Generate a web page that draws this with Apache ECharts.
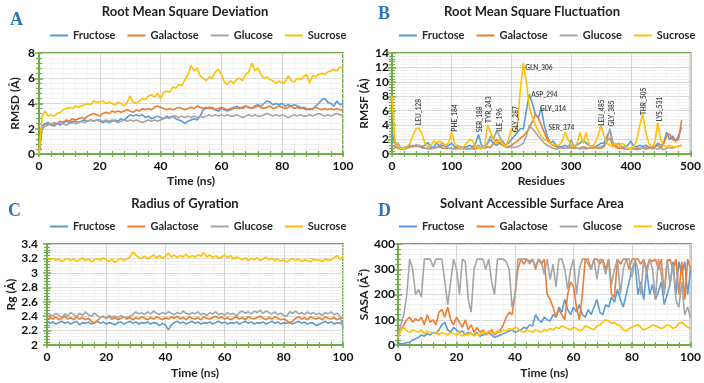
<!DOCTYPE html>
<html><head><meta charset="utf-8">
<script src="https://cdn.jsdelivr.net/npm/echarts@6/dist/echarts.min.js"></script>
<style>html,body{margin:0;padding:0;background:#fff}#c{width:704px;height:383px}</style>
</head><body><div id="c"></div>
<script>
const seriesNames = ['Fructose', 'Galactose', 'Glucose', 'Sucrose'];

const time = [
  0, 1, 2, 3, 4, 5, 6, 7, 8, 9,
  10, 11, 12, 13, 14, 15, 16, 17, 18, 19,
  20, 21, 22, 23, 24, 25, 26, 27, 28, 29,
  30, 31, 32, 33, 34, 35, 36, 37, 38, 39,
  40, 41, 42, 43, 44, 45, 46, 47, 48, 49,
  50, 51, 52, 53, 54, 55, 56, 57, 58, 59,
  60, 61, 62, 63, 64, 65, 66, 67, 68, 69,
  70, 71, 72, 73, 74, 75, 76, 77, 78, 79,
  80, 81, 82, 83, 84, 85, 86, 87, 88, 89,
  90, 91, 92, 93, 94, 95, 96, 97, 98, 99,
  100];

// Panel A: RMSD (Å)
const rmsdFructose = [
  0, 2.2, 2.4, 2.5, 2.3, 2.2, 2.4, 2.3, 2.5, 2.6,
  2.5, 2.6, 2.6, 2.5, 2.6, 2.7, 2.6, 2.7, 2.6, 2.7,
  2.6, 2.5, 2.6, 2.5, 2.6, 2.7, 2.6, 2.8, 2.7, 2.9,
  3.1, 3.0, 3.1, 3.0, 3.1, 2.9, 3.0, 2.8, 2.9, 3.0,
  2.9, 2.8, 3.0, 2.9, 3.0, 2.8, 2.7, 2.6, 2.4, 2.6,
  2.7, 2.8, 2.7, 3.0, 3.5, 3.6, 3.7, 3.6, 3.5, 3.4,
  3.6, 3.5, 3.4, 3.5, 3.6, 3.8, 3.6, 3.7, 3.8, 3.7,
  3.6, 3.8, 3.9, 3.8, 4.0, 4.2, 4.1, 3.9, 4.0, 3.9,
  4.0, 3.8, 3.9, 3.8, 3.9, 3.8, 3.7, 3.6, 3.5, 3.6,
  3.5, 3.8, 4.0, 4.3, 4.4, 4.1, 4.0, 3.8, 4.2, 3.9,
  4.0];
const rmsdGalactose = [
  0, 2.0, 2.2, 2.4, 2.3, 2.5, 2.4, 2.6, 2.5, 2.7,
  2.6, 2.8, 2.7, 2.8, 2.9, 2.8, 3.0, 3.1, 3.2, 3.1,
  3.0, 3.2, 3.3, 3.2, 3.4, 3.3, 3.4, 3.3, 3.4, 3.5,
  3.4, 3.3, 3.5, 3.4, 3.6, 3.5, 3.6, 3.5, 3.7, 3.8,
  3.7, 3.6, 3.5, 3.6, 3.5, 3.6, 3.7, 3.6, 3.5, 3.6,
  3.7, 3.6, 3.8, 3.7, 3.6, 3.7, 3.6, 3.7, 3.5, 3.6,
  3.7, 3.6, 3.5, 3.6, 3.7, 3.6, 3.7, 3.6, 3.8, 3.7,
  3.6, 3.7, 3.8, 3.7, 3.6, 3.7, 3.8, 3.6, 3.7, 3.8,
  3.7, 3.6, 3.7, 3.8, 3.6, 3.7, 3.6, 3.7, 3.6, 3.5,
  3.6, 3.7, 3.6, 3.5, 3.6, 3.5, 3.6, 3.5, 3.6, 3.5,
  3.5];
const rmsdGlucose = [
  0, 2.0, 2.2, 2.3, 2.4, 2.3, 2.4, 2.5, 2.4, 2.3,
  2.4, 2.5, 2.4, 2.5, 2.6, 2.5, 2.6, 2.7, 2.6, 2.7,
  2.7, 2.6, 2.7, 2.6, 2.7, 2.6, 2.5, 2.6, 2.7, 2.6,
  2.7, 2.6, 2.7, 2.6, 2.5, 2.6, 2.7, 2.6, 2.7, 2.6,
  2.7, 2.8, 2.9, 2.8, 3.0, 3.0, 2.9, 3.0, 2.9, 3.0,
  2.9, 3.0, 2.9, 3.0, 2.9, 3.0, 3.1, 3.0, 3.1, 3.0,
  3.1, 3.0, 3.1, 3.0, 3.0, 3.1, 3.0, 2.9, 3.0, 3.1,
  3.0, 3.1, 3.0, 3.0, 3.1, 3.2, 3.1, 3.0, 3.1, 3.0,
  3.1, 3.0, 2.9, 3.0, 3.1, 3.0, 3.1, 3.0, 3.0, 3.1,
  3.0, 3.1, 3.2, 3.1, 3.0, 3.1, 3.0, 3.1, 3.2, 3.1,
  3.1];
const rmsdSucrose = [
  0, 3.0, 3.4, 3.0, 3.1, 3.0, 3.2, 3.3, 3.5, 3.6,
  3.7, 3.6, 3.8, 3.7, 3.8, 3.9, 4.0, 3.9, 4.2, 4.1,
  4.1, 4.2, 4.0, 4.1, 4.0, 3.9, 4.1, 4.0, 3.8, 4.1,
  4.6, 4.1, 4.0, 4.2, 4.4, 4.3, 4.6, 4.7, 4.5, 4.8,
  4.4, 4.9, 5.0, 4.9, 5.3, 5.2, 5.5, 5.4, 5.9, 6.3,
  7.0, 6.6, 6.8, 6.2, 6.0, 5.8, 6.1, 6.0, 6.5, 6.7,
  6.3, 5.7, 5.5, 5.8, 5.6, 5.9, 6.0, 5.8, 6.3, 6.5,
  7.2, 6.6, 6.8, 6.3, 6.0, 6.1, 5.9, 5.8, 5.6, 5.8,
  5.6, 5.7, 6.2, 5.8, 5.7, 6.0, 5.9, 6.1, 6.3, 5.6,
  6.2, 6.1, 6.3, 6.4, 6.3, 6.5, 6.6, 6.7, 6.6, 6.9,
  6.8];

// Panel B: RMSF (Å) by residue
const residues = [
  0, 5, 10, 15, 20, 25, 30, 35, 40, 45,
  50, 55, 60, 65, 70, 75, 80, 85, 90, 95,
  100, 105, 110, 115, 120, 125, 130, 135, 140, 145,
  150, 155, 160, 165, 170, 175, 180, 185, 190, 195,
  200, 205, 210, 215, 220, 225, 230, 235, 240, 245,
  250, 255, 260, 265, 270, 275, 280, 285, 290, 295,
  300, 305, 310, 315, 320, 325, 330, 335, 340, 345,
  350, 355, 360, 365, 370, 375, 380, 385, 390, 395,
  400, 405, 410, 415, 420, 425, 430, 435, 440, 445,
  450, 455, 460, 465, 470, 475, 480, 485];
const rmsfFructose = [
  2.8, 1.5, 1.0, 0.8, 0.9, 1.0, 1.2, 1.0, 1.2, 1.2,
  1.0, 1.2, 1.6, 1.0, 0.9, 1.6, 1.0, 1.2, 1.0, 1.2,
  1.5, 1.0, 0.8, 1.0, 0.9, 1.0, 1.2, 1.0, 1.5, 2.7,
  1.2, 0.9, 1.5, 2.0, 1.5, 1.2, 1.5, 1.8, 1.2, 1.5,
  2.0, 2.5, 3.0, 3.5, 3.5, 6.0, 8.3, 7.0, 5.5, 5.0,
  6.4, 4.0, 2.5, 1.5, 1.8, 1.2, 1.0, 1.0, 1.2, 1.0,
  1.2, 1.0, 1.3, 1.5, 2.0, 1.5, 1.2, 1.0, 1.0, 1.2,
  1.5, 1.5, 2.5, 3.2, 1.5, 1.0, 0.8, 0.8, 1.0, 1.2,
  1.8, 1.0, 1.0, 1.2, 1.0, 1.2, 1.0, 0.8, 1.0, 1.5,
  1.2, 1.5, 3.0, 2.0, 2.5, 1.8, 2.5, 3.7];
const rmsfGalactose = [
  1.2, 1.0, 0.8, 0.7, 0.7, 0.8, 1.0, 1.0, 1.2, 1.0,
  1.0, 0.8, 0.8, 0.7, 0.8, 0.9, 1.0, 0.8, 0.8, 0.8,
  0.8, 0.7, 1.2, 0.7, 0.8, 0.7, 0.8, 0.7, 0.7, 0.8,
  0.8, 0.8, 1.0, 0.9, 1.5, 2.0, 1.5, 1.2, 1.0, 1.0,
  1.2, 1.5, 1.8, 2.2, 2.5, 3.0, 3.5, 4.5, 5.5, 5.0,
  4.0, 3.0, 2.0, 1.5, 1.2, 1.0, 0.8, 0.8, 0.8, 0.8,
  0.9, 0.8, 0.8, 0.8, 1.0, 0.9, 0.8, 0.8, 0.9, 0.8,
  0.8, 1.0, 1.8, 2.2, 1.2, 1.0, 0.8, 0.8, 0.7, 0.7,
  0.8, 0.7, 0.8, 0.8, 0.8, 0.7, 0.8, 0.8, 1.0, 1.2,
  0.8, 1.5, 2.5, 2.8, 2.0, 1.8, 2.0, 4.7];
const rmsfGlucose = [
  1.2, 1.0, 1.5, 0.8, 0.7, 0.8, 1.0, 1.2, 1.0, 1.2,
  0.8, 0.8, 0.7, 0.9, 0.8, 1.0, 1.2, 1.6, 0.9, 0.8,
  0.7, 0.8, 0.7, 0.8, 0.7, 0.8, 0.7, 0.9, 1.0, 1.2,
  0.8, 0.8, 1.5, 2.5, 2.0, 3.2, 2.5, 1.5, 1.0, 0.9,
  1.0, 0.9, 1.0, 1.2, 1.5, 2.5, 4.0, 3.5, 3.0, 2.5,
  2.0, 1.5, 1.2, 1.0, 0.8, 0.7, 0.8, 0.9, 0.8, 0.8,
  2.0, 1.0, 0.8, 0.7, 0.8, 0.7, 0.8, 0.9, 1.0, 0.9,
  1.0, 1.2, 2.0, 3.5, 1.5, 1.2, 1.5, 1.0, 0.8, 0.7,
  0.8, 0.7, 0.6, 0.7, 0.8, 0.9, 1.0, 0.7, 0.8, 0.7,
  0.8, 0.6, 0.8, 0.9, 0.8, 1.0, 1.1, 1.2];
const rmsfSucrose = [
  8.0, 1.8, 1.0, 0.8, 0.8, 1.0, 1.5, 2.5, 3.5, 3.6,
  2.8, 1.5, 1.0, 1.2, 1.8, 1.5, 1.8, 1.5, 1.2, 1.6,
  3.0, 1.5, 1.0, 0.8, 1.0, 1.5, 2.0, 1.8, 1.0, 0.8,
  0.7, 1.0, 4.0, 3.0, 2.0, 1.5, 2.0, 1.5, 1.0, 2.0,
  3.5, 3.0, 4.0, 9.0, 12.6, 10.0, 6.5, 5.0, 4.0, 3.2,
  2.5, 2.0, 1.8, 1.5, 1.3, 1.2, 1.2, 1.8, 3.0, 2.0,
  1.2, 1.0, 1.5, 3.0, 1.5, 3.0, 1.2, 1.0, 1.5, 2.5,
  4.0, 2.5, 1.5, 1.2, 1.0, 1.5, 1.0, 1.5, 1.2, 0.8,
  0.8, 1.0, 2.0, 4.0, 5.5, 3.0, 1.5, 1.0, 1.5, 4.3,
  2.0, 1.2, 1.0, 1.2, 1.0, 1.0, 1.0, 1.2];

// Residue annotations in panel B
const peakNames = ['LEU_128', 'PHE_184', 'SER_188', 'TYR_243', 'ILE_196', 'GLY_287', 'GLN_306', 'ASP_294', 'GLY_314', 'SER_374', 'LEU_485', 'GLY_385', 'THR_505', 'LYS_531'];
const peakResidue = [45, 105, 148, 163, 180, 208, 223, 233, 248, 262, 352, 369, 422, 449];
const peakRmsf = [4.0, 3.1, 3.0, 4.3, 3.1, 3.0, 11.9, 8.2, 6.3, 3.65, 3.9, 3.8, 5.4, 4.5];
const peakVertical = [true, true, true, true, true, true, false, false, false, false, true, true, true, true];

// Panel C: Rg (Å)
const rgFructose = [
  2.33, 2.30, 2.32, 2.29, 2.31, 2.33, 2.30, 2.32, 2.29, 2.31,
  2.33, 2.28, 2.31, 2.30, 2.32, 2.29, 2.31, 2.33, 2.30, 2.32,
  2.29, 2.31, 2.30, 2.28, 2.31, 2.32, 2.29, 2.31, 2.33, 2.30,
  2.32, 2.29, 2.31, 2.30, 2.32, 2.29, 2.31, 2.30, 2.27, 2.30,
  2.28, 2.21, 2.28, 2.31, 2.33, 2.30, 2.32, 2.29, 2.31, 2.33,
  2.30, 2.32, 2.29, 2.31, 2.30, 2.32, 2.29, 2.31, 2.33, 2.30,
  2.32, 2.29, 2.31, 2.30, 2.32, 2.29, 2.31, 2.33, 2.30, 2.32,
  2.29, 2.31, 2.30, 2.32, 2.29, 2.31, 2.33, 2.30, 2.32, 2.29,
  2.31, 2.30, 2.32, 2.29, 2.31, 2.33, 2.30, 2.32, 2.29, 2.31,
  2.30, 2.27, 2.29, 2.31, 2.33, 2.30, 2.32, 2.29, 2.31, 2.30,
  2.32];
const rgGalactose = [
  2.35, 2.38, 2.36, 2.39, 2.35, 2.37, 2.40, 2.36, 2.38, 2.35,
  2.39, 2.36, 2.38, 2.35, 2.37, 2.33, 2.30, 2.34, 2.38, 2.40,
  2.37, 2.39, 2.36, 2.38, 2.35, 2.37, 2.39, 2.36, 2.38, 2.35,
  2.38, 2.36, 2.39, 2.37, 2.35, 2.38, 2.36, 2.39, 2.37, 2.35,
  2.38, 2.36, 2.39, 2.37, 2.40, 2.36, 2.38, 2.35, 2.39, 2.37,
  2.36, 2.38, 2.35, 2.39, 2.37, 2.36, 2.38, 2.40, 2.37, 2.39,
  2.36, 2.38, 2.35, 2.37, 2.39, 2.36, 2.38, 2.35, 2.39, 2.37,
  2.36, 2.38, 2.40, 2.37, 2.35, 2.38, 2.36, 2.39, 2.37, 2.35,
  2.36, 2.34, 2.30, 2.33, 2.37, 2.39, 2.36, 2.38, 2.35, 2.39,
  2.37, 2.36, 2.38, 2.35, 2.39, 2.37, 2.36, 2.38, 2.35, 2.37,
  2.38];
const rgGlucose = [
  2.38, 2.42, 2.40, 2.44, 2.41, 2.38, 2.43, 2.40, 2.45, 2.42,
  2.39, 2.44, 2.41, 2.46, 2.42, 2.40, 2.44, 2.41, 2.38, 2.40,
  2.37, 2.41, 2.39, 2.40, 2.38, 2.41, 2.39, 2.38, 2.40, 2.42,
  2.46, 2.43, 2.45, 2.42, 2.46, 2.43, 2.47, 2.44, 2.42, 2.45,
  2.43, 2.46, 2.44, 2.42, 2.45, 2.43, 2.47, 2.44, 2.42, 2.45,
  2.43, 2.46, 2.42, 2.44, 2.41, 2.45, 2.43, 2.46, 2.42, 2.44,
  2.41, 2.45, 2.42, 2.44, 2.40, 2.45, 2.47, 2.44, 2.46, 2.43,
  2.47, 2.45, 2.48, 2.44, 2.47, 2.45, 2.43, 2.46, 2.42, 2.44,
  2.41, 2.40, 2.46, 2.44, 2.47, 2.43, 2.45, 2.42, 2.46, 2.43,
  2.45, 2.42, 2.44, 2.41, 2.45, 2.43, 2.46, 2.42, 2.44, 2.40,
  2.23];
const rgSucrose = [
  3.22, 3.18, 3.20, 3.17, 3.19, 3.16, 3.18, 3.20, 3.17, 3.19,
  3.16, 3.18, 3.21, 3.17, 3.19, 3.15, 3.18, 3.20, 3.17, 3.21,
  3.18, 3.16, 3.19, 3.14, 3.18, 3.20, 3.17, 3.19, 3.22, 3.29,
  3.25, 3.21, 3.20, 3.23, 3.19, 3.22, 3.25, 3.21, 3.24, 3.20,
  3.23, 3.27, 3.22, 3.25, 3.21, 3.24, 3.22, 3.26, 3.21, 3.24,
  3.22, 3.25, 3.23, 3.28, 3.22, 3.25, 3.21, 3.24, 3.20, 3.22,
  3.25, 3.21, 3.24, 3.19, 3.22, 3.20, 3.18, 3.21, 3.17, 3.20,
  3.18, 3.21, 3.17, 3.19, 3.22, 3.18, 3.20, 3.17, 3.19, 3.16,
  3.18, 3.15, 3.18, 3.20, 3.17, 3.19, 3.16, 3.18, 3.17, 3.15,
  3.19, 3.17, 3.18, 3.16, 3.19, 3.17, 3.18, 3.21, 3.24, 3.19,
  3.22];

// Panel D: SASA (Å²)
const sasaFructose = [
  10, 5, 5, 10, 10, 20, 25, 30, 40, 35,
  45, 40, 50, 45, 60, 80, 90, 60, 50, 70,
  60, 50, 55, 40, 50, 45, 40, 50, 35, 40,
  45, 50, 40, 30, 35, 40, 45, 50, 55, 60,
  50, 55, 60, 70, 65, 80, 75, 120, 100, 90,
  110, 100, 95, 120, 110, 150, 130, 180, 140, 120,
  150, 130, 160, 120, 110, 140, 120, 150, 180, 130,
  120, 160, 150, 190, 170, 220, 180, 150, 200, 250,
  300, 330, 200, 250, 180, 300, 200, 240, 180, 210,
  250, 160, 200, 240, 330, 200, 330, 280, 330, 200,
  300];
const sasaGalactose = [
  30, 60, 80, 100, 110, 90, 105, 95, 110, 80,
  120, 90, 100, 80, 130, 140, 110, 150, 100, 80,
  110, 90, 70, 100, 60, 80, 50, 70, 50, 60,
  40, 50, 60, 40, 50, 60, 80, 110, 130, 120,
  200, 300, 340, 320, 340, 330, 340, 300, 340, 320,
  340, 200, 180, 150, 110, 140, 120, 100, 200, 250,
  230, 150, 100, 200, 340, 340, 300, 340, 340, 320,
  340, 300, 340, 200, 190, 340, 320, 340, 340, 300,
  340, 340, 340, 320, 340, 300, 340, 330, 340, 300,
  340, 200, 330, 340, 300, 340, 200, 330, 180, 340,
  300];
const sasaGlucose = [
  40, 80, 120, 200, 340, 300, 200, 220, 190, 340,
  340, 340, 310, 340, 340, 340, 250, 160, 250, 340,
  300, 200, 340, 330, 180, 130, 300, 340, 340, 340,
  300, 340, 250, 200, 340, 340, 340, 330, 300, 150,
  200, 340, 340, 340, 340, 320, 340, 310, 340, 330,
  280, 340, 260, 320, 230, 340, 340, 300, 220, 300,
  340, 200, 300, 340, 340, 320, 300, 340, 260, 340,
  330, 280, 340, 240, 300, 340, 200, 300, 340, 340,
  270, 340, 300, 200, 340, 280, 340, 300, 180, 340,
  280, 200, 340, 240, 320, 180, 150, 250, 120, 150,
  110];
const sasaSucrose = [
  30, 60, 70, 55, 50, 60, 55, 50, 60, 45,
  55, 50, 45, 50, 40, 50, 45, 40, 50, 45,
  40, 50, 35, 45, 40, 50, 35, 45, 40, 50,
  45, 55, 50, 45, 55, 50, 60, 55, 65, 60,
  70, 65, 55, 50, 60, 55, 50, 60, 55, 50,
  60, 55, 65, 60, 70, 65, 75, 70, 65, 60,
  70, 65, 55, 60, 75, 70, 65, 60, 75, 80,
  90, 100, 95, 85, 90, 80, 75, 60, 55, 65,
  70, 75, 80, 70, 60, 65, 70, 80, 75, 70,
  65, 70, 80, 75, 65, 70, 85, 90, 80, 70,
  65];

// ---------- chart construction ----------
const colors = ['#5B9BD5', '#ED7D31', '#A5A5A5', '#FFC000'];
const green = '#70AD47';
const FONT = 'Lato';
const letterColor = '#2E75B6';

const panels = [
  { letter: 'A', lx: 5, ly: 6, title: 'Root Mean Square Deviation', tx: 180, ty: 0, legendLeft: 45, legendTop: 25,
    grid: { left: 39, top: 53, width: 304, height: 101 },
    x: { min: 0, max: 100, interval: 20, name: 'Time (ns)', gap: 21 },
    y: { min: 0, max: 8, interval: 2, name: 'RMSD (Å)', gap: 18, margin: 4 },
    xs: time, ys: [rmsdFructose, rmsdGalactose, rmsdGlucose, rmsdSucrose] },
  { letter: 'B', lx: 373, ly: 0, title: 'Root Mean Square Fluctuation', tx: 527, ty: 0, legendLeft: 394, legendTop: 25,
    grid: { left: 392, top: 53, width: 300, height: 101 },
    x: { min: 0, max: 500, interval: 100, name: 'Residues', gap: 21 },
    y: { min: 0, max: 14, interval: 2, name: 'RMSF (Å)', gap: 22, margin: 3 },
    xs: residues, ys: [rmsfFructose, rmsfGalactose, rmsfGlucose, rmsfSucrose] },
  { letter: 'C', lx: 3, ly: 197, title: 'Radius of Gyration', tx: 180, ty: 192, legendLeft: 45, legendTop: 216,
    grid: { left: 47, top: 244, width: 296, height: 101 },
    x: { min: 0, max: 100, interval: 20, name: 'Time (ns)', gap: 22 },
    y: { min: 2, max: 3.4, interval: 0.2, name: 'Rg (Å)', gap: 26, margin: 9 },
    xs: time, ys: [rgFructose, rgGalactose, rgGlucose, rgSucrose] },
  { letter: 'D', lx: 373, ly: 197, title: 'Solvant Accessible Surface Area', tx: 527, ty: 192, legendLeft: 394, legendTop: 216,
    grid: { left: 398, top: 244, width: 293, height: 101 },
    x: { min: 0, max: 100, interval: 20, name: 'Time (ns)', gap: 22 },
    y: { min: 0, max: 400, interval: 100, name: 'SASA (Å²)', gap: 28, margin: 3 },
    xs: time, ys: [sasaFructose, sasaGalactose, sasaGlucose, sasaSucrose] }
];

const labelStyle = { fontFamily: FONT, fontWeight: 'bold', fontSize: 12, color: '#111' };
const nameStyle = { fontFamily: FONT, fontWeight: 'bold', fontSize: 12, color: '#1f1f1f' };

const grids = [], xAxes = [], yAxes = [], titles = [], legends = [], series = [];

panels.forEach((p, i) => {
  grids.push(Object.assign({ show: true, borderColor: green, borderWidth: 2, containLabel: false }, p.grid));
  titles.push({ text: p.letter, left: p.lx, top: p.ly,
    textStyle: { fontFamily: 'Liberation Serif', fontWeight: 'bold', fontSize: 18, color: letterColor } });
  titles.push({ text: p.title, left: p.tx, top: p.ty, textAlign: 'center',
    textStyle: { fontFamily: FONT, fontWeight: 'bold', fontSize: 13, color: '#1f1f1f' } });
  legends.push({ left: p.legendLeft, top: p.legendTop, data: seriesNames, icon: 'rect',
    itemWidth: 18, itemHeight: 2, itemGap: 12,
    textStyle: { fontFamily: FONT, fontWeight: 'bold', fontSize: 11, color: '#2a2a2a' } });

  xAxes.push({ type: 'value', gridIndex: i, min: p.x.min, max: p.x.max, interval: p.x.interval,
    name: p.x.name, nameLocation: 'middle', nameGap: p.x.gap, nameTextStyle: nameStyle,
    axisLine: { show: true, onZero: false, lineStyle: { color: green, width: 2 } },
    axisTick: { show: true, inside: false, length: 3, lineStyle: { color: green, width: 1.5 } },
    minorTick: { show: true, splitNumber: 5, length: 3, lineStyle: { color: green, width: 1.2 } },
    splitLine: { show: true, lineStyle: { color: '#D4D4D4', width: 1 } },
    minorSplitLine: { show: true, lineStyle: { color: '#F2F2F2', width: 1 } },
    axisLabel: Object.assign({ margin: 6, showMinLabel: true, showMaxLabel: true }, labelStyle) });
  yAxes.push({ type: 'value', gridIndex: i, min: p.y.min, max: p.y.max, interval: p.y.interval,
    name: p.y.name, nameLocation: 'middle', nameGap: p.y.gap, nameTextStyle: nameStyle,
    axisLine: { show: true, onZero: false, lineStyle: { color: green, width: 2 } },
    axisTick: { show: true, inside: false, length: 4, lineStyle: { color: green, width: 1.5 } },
    minorTick: { show: true, splitNumber: 5, length: 3, lineStyle: { color: green, width: 1.2 } },
    splitLine: { show: true, lineStyle: { color: '#D9D9D9', width: 1 } },
    minorSplitLine: { show: true, lineStyle: { color: '#F2F2F2', width: 1 } },
    axisLabel: Object.assign({ margin: p.y.margin }, labelStyle) });

  p.ys.forEach((vals, k) => {
    series.push({ type: 'line', name: seriesNames[k], xAxisIndex: i, yAxisIndex: i,
      data: vals.map((v, j) => [p.xs[j], v]),
      showSymbol: false, symbol: 'none', lineStyle: { color: colors[k], width: 1.6 },
      itemStyle: { color: colors[k] }, z: 2 + k });
  });
});

// helper axes giving the inner half of the crossing tick marks
panels.forEach((p, i) => {
  xAxes.push({ type: 'value', gridIndex: i, min: p.x.min, max: p.x.max, interval: p.x.interval, position: 'bottom',
    axisLine: { show: false }, axisLabel: { show: false }, splitLine: { show: false },
    axisTick: { show: true, inside: true, length: 3, lineStyle: { color: green, width: 1.5 } },
    minorTick: { show: true, splitNumber: 5, length: 3, lineStyle: { color: green, width: 1.2 } } });
  yAxes.push({ type: 'value', gridIndex: i, min: p.y.min, max: p.y.max, interval: p.y.interval, position: 'left',
    axisLine: { show: false }, axisLabel: { show: false }, splitLine: { show: false },
    axisTick: { show: true, inside: true, length: 4, lineStyle: { color: green, width: 1.5 } },
    minorTick: { show: true, splitNumber: 5, length: 3, lineStyle: { color: green, width: 1.2 } } });
});

// annotation labels for RMSF peaks
series.push({ type: 'scatter', name: 'peaks', xAxisIndex: 1, yAxisIndex: 1, symbolSize: 1,
  itemStyle: { color: 'rgba(0,0,0,0)' }, z: 10, silent: true,
  data: peakNames.map((n, j) => ({ name: n, value: [peakResidue[j], peakRmsf[j]],
    label: { rotate: peakVertical[j] ? 90 : 0 } })),
  label: { show: true, position: 'inside', formatter: '{b}', align: 'left', verticalAlign: 'middle',
    fontFamily: FONT, fontSize: 6.5, fontWeight: 'bold', color: '#222' } });

const chart = echarts.init(document.getElementById('c'), null, { renderer: 'canvas' });
chart.setOption({
  animation: false,
  backgroundColor: '#fff',
  title: titles, legend: legends, grid: grids, xAxis: xAxes, yAxis: yAxes, series: series
});
</script></body></html>
